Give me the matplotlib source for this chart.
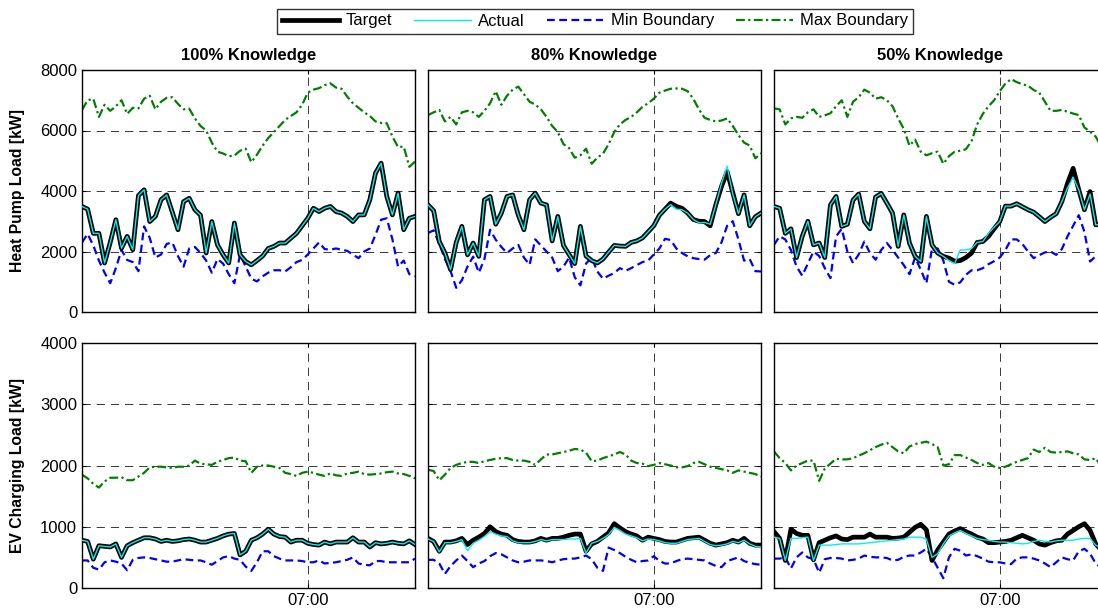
import numpy as np
import pandas as pd
import matplotlib
matplotlib.use('Agg')
import matplotlib.pyplot as plt
import matplotlib.dates as mdates

# 5-minute samples, 07:00 is index 40
times = pd.date_range('2014-01-01 03:40', periods=60, freq='5min')
tick_time = pd.Timestamp('2014-01-01 07:00')

titles = ['100% Knowledge', '80% Knowledge', '50% Knowledge']

# ---- heat pump load [kW] ----
hp_target_100 = [3490, 3400, 2600, 2600, 1620, 2300, 3050, 2110, 2500, 2060,
                 3850, 4040, 2990, 3160, 3710, 3870, 3300, 2720, 3650, 3760,
                 3380, 3200, 1950, 2990, 2220, 1890, 1620, 2940, 1890, 1670,
                 1560, 1700, 1850, 2100, 2170, 2280, 2280, 2440, 2600, 2850,
                 3100, 3430, 3320, 3430, 3490, 3320, 3270, 3160, 2990, 3210,
                 3210, 3710, 4590, 4920, 3820, 3210, 3930, 2720, 3100, 3160]
hp_actual_100 = hp_target_100
hp_min_100 = [2300, 2580, 2200, 1700, 1300, 950, 1450, 2050, 1720, 1650,
              1350, 2830, 2450, 1800, 1900, 2250, 2300, 1850, 1500, 2100,
              2150, 1950, 1700, 1300, 1750, 1600, 1250, 950, 1900, 1500,
              1100, 1010, 1180, 1300, 1380, 1380, 1340, 1480, 1650, 1720,
              1900, 2100, 2300, 2080, 2060, 2100, 2060, 2020, 1900, 1780,
              2000, 2100, 2550, 3050, 3100, 2400, 1500, 1700, 1250, 1180]
hp_max_100 = [6680, 7000, 7050, 6450, 6850, 6650, 6800, 7000, 6550, 6750,
              6730, 7050, 7150, 6700, 6950, 7080, 7100, 6880, 6700, 6720,
              6400, 6150, 6000, 5600, 5300, 5240, 5150, 5170, 5330, 5400,
              4950, 5200, 5500, 5750, 5950, 6150, 6350, 6480, 6600, 6850,
              7250, 7350, 7400, 7500, 7560, 7420, 7380, 7120, 6900, 6750,
              6600, 6480, 6300, 6250, 6240, 5800, 5450, 5470, 4800, 4970]

hp_target_80 = [3540, 3350, 2330, 1950, 1400, 2300, 2830, 1890, 2280, 1840,
                3710, 3820, 2900, 3270, 3820, 3870, 3200, 2720, 3710, 3930,
                3600, 3540, 2350, 3160, 2200, 1900, 1600, 2830, 1850, 1700,
                1620, 1750, 1980, 2200, 2180, 2170, 2300, 2350, 2450, 2650,
                2850, 3200, 3400, 3600, 3490, 3430, 3270, 3060, 3000, 2990,
                2850, 3550, 4150, 4640, 3950, 3250, 3870, 2850, 3150, 3270]
hp_actual_80 = [3540, 3350, 2330, 1950, 1400, 2300, 2830, 1890, 2280, 1840,
                3710, 3820, 2900, 3270, 3820, 3870, 3200, 2720, 3710, 3930,
                3600, 3540, 2350, 3160, 2200, 1900, 1600, 2830, 1850, 1700,
                1620, 1750, 1980, 2200, 2180, 2170, 2300, 2350, 2450, 2650,
                2850, 3200, 3400, 3550, 3400, 3380, 3270, 3060, 2950, 2960,
                2900, 3550, 4250, 4820, 3900, 3250, 3870, 2850, 3150, 3270]
hp_min_80 = [2610, 2700, 2250, 1750, 1350, 800, 1050, 1500, 1830, 1300,
             1750, 2720, 2390, 2150, 1950, 2100, 2220, 1800, 1560, 2400,
             2200, 2000, 1800, 1350, 1500, 1800, 1150, 880, 1600, 1800,
             1340, 1100, 1200, 1290, 1450, 1360, 1450, 1550, 1650, 1700,
             1900, 2100, 2420, 2380, 2100, 1950, 1840, 1780, 1750, 1730,
             1880, 1950, 2300, 2850, 3000, 2400, 1700, 1750, 1350, 1340]
hp_max_80 = [6510, 6600, 6680, 6300, 6450, 6200, 6600, 6650, 6600, 6450,
             6650, 6900, 7300, 6850, 7150, 7350, 7450, 7200, 6950, 6860,
             6700, 6450, 6150, 5950, 5550, 5420, 5100, 5180, 5400, 4900,
             5100, 5230, 5550, 5950, 6200, 6350, 6450, 6600, 6780, 6900,
             7050, 7250, 7320, 7380, 7390, 7380, 7300, 7050, 6700, 6420,
             6350, 6300, 6330, 6400, 6150, 5850, 5600, 5500, 5080, 5250]

hp_target_50 = [3490, 3430, 2600, 2750, 1800, 2500, 3000, 2220, 2280, 1800,
                3540, 3820, 2830, 2900, 3700, 3900, 3000, 2750, 3800, 3920,
                3600, 3270, 2170, 3210, 2280, 1840, 1670, 3160, 2220, 1950,
                1840, 1780, 1680, 1700, 1800, 1950, 2300, 2330, 2500, 2750,
                2990, 3500, 3500, 3580, 3480, 3380, 3300, 3150, 2990, 3130,
                3250, 3650, 4250, 4750, 4040, 3380, 3980, 2880, 2900, 3100]
hp_actual_50 = [3490, 3430, 2600, 2750, 1800, 2500, 3000, 2220, 2280, 1800,
                3540, 3820, 2830, 2900, 3700, 3900, 3000, 2750, 3800, 3920,
                3600, 3270, 2170, 3210, 2280, 1840, 1670, 3160, 2220, 1950,
                1840, 1700, 1600, 2050, 2050, 2100, 2300, 2330, 2600, 2800,
                2990, 3500, 3500, 3580, 3480, 3380, 3300, 3150, 2990, 3130,
                3250, 3650, 4100, 4450, 4040, 3380, 3900, 2880, 2900, 3100]
hp_min_50 = [2220, 2500, 2400, 2050, 1500, 1200, 1600, 2000, 1850, 1450,
             1120, 2500, 2750, 2000, 1620, 1900, 2330, 1950, 1730, 2050,
             2280, 2050, 1800, 1550, 1250, 1800, 1400, 950, 2100, 2100,
             1700, 1000, 900, 980, 1230, 1380, 1380, 1450, 1580, 1680,
             1800, 2050, 2400, 2400, 2250, 2000, 1780, 1880, 1970, 2000,
             1890, 2080, 2500, 2850, 3200, 2650, 1670, 1840, 1850, 1800]
hp_max_50 = [6730, 6700, 6200, 6400, 6450, 6420, 6600, 6700, 6450, 6500,
             6570, 6800, 7000, 6450, 6950, 7100, 7350, 7250, 7050, 7100,
             7000, 6800, 6400, 6050, 5500, 5700, 5300, 5180, 5250, 5300,
             4900, 5150, 5300, 5330, 5380, 5650, 6200, 6550, 6800, 7000,
             7300, 7550, 7700, 7600, 7530, 7480, 7340, 7250, 6950, 6650,
             6650, 6680, 6620, 6560, 6510, 6100, 5960, 5800, 5450, 5300]

# ---- EV charging load [kW] ----
ev_target_100 = [780, 760, 470, 690, 680, 670, 720, 500, 690, 740,
                 780, 820, 820, 800, 760, 780, 760, 770, 790, 800,
                 780, 750, 750, 780, 810, 850, 880, 890, 540, 600,
                 780, 820, 880, 960, 880, 840, 830, 750, 780, 780,
                 730, 710, 700, 750, 720, 750, 750, 750, 820, 750,
                 750, 670, 740, 720, 730, 750, 730, 720, 770, 710]
ev_actual_100 = ev_target_100
ev_min_100 = [450, 450, 330, 300, 420, 450, 430, 400, 290, 460,
              490, 500, 490, 470, 450, 430, 430, 450, 470, 460,
              450, 450, 420, 380, 440, 500, 520, 480, 460, 350,
              280, 420, 600, 600, 520, 480, 450, 450, 450, 440,
              420, 420, 450, 400, 410, 420, 440, 460, 500, 400,
              380, 370, 440, 440, 420, 420, 420, 420, 420, 480]
ev_max_100 = [1850, 1790, 1700, 1640, 1740, 1800, 1800, 1810, 1760, 1760,
              1820, 1880, 1970, 1980, 1980, 1970, 1960, 1980, 1980, 2000,
              2080, 2030, 2020, 2010, 2060, 2090, 2120, 2130, 2080, 2070,
              1880, 1980, 2000, 2000, 1980, 1960, 1880, 1860, 1830, 1880,
              1900, 1880, 1850, 1830, 1870, 1840, 1830, 1870, 1880, 1900,
              1860, 1850, 1860, 1870, 1890, 1900, 1870, 1860, 1830, 1790]

ev_target_80 = [810, 760, 600, 750, 750, 770, 810, 710, 780, 830,
                890, 1000, 920, 880, 860, 790, 760, 750, 750, 770,
                810, 780, 810, 810, 830, 860, 880, 880, 600, 720,
                760, 830, 900, 1050, 980, 920, 880, 850, 780, 830,
                810, 790, 760, 750, 750, 780, 810, 820, 830, 780,
                730, 700, 720, 740, 780, 750, 810, 730, 700, 700]
ev_actual_80 = [800, 760, 590, 740, 740, 760, 790, 610, 730, 780,
                840, 920, 880, 850, 840, 770, 740, 740, 740, 760,
                790, 770, 790, 790, 790, 800, 800, 810, 570, 730,
                760, 810, 870, 990, 940, 880, 850, 820, 770, 800,
                790, 770, 740, 730, 730, 760, 790, 800, 810, 760,
                710, 690, 700, 720, 760, 740, 780, 720, 680, 670]
ev_min_80 = [460, 460, 400, 230, 360, 450, 530, 440, 340, 400,
             440, 520, 570, 550, 500, 450, 420, 430, 450, 450,
             450, 440, 420, 450, 470, 480, 480, 500, 530, 470,
             330, 280, 660, 620, 570, 510, 460, 420, 440, 450,
             520, 440, 400, 400, 440, 470, 480, 470, 460, 450,
             400, 360, 340, 440, 470, 500, 440, 410, 390, 380]
ev_max_80 = [1930, 1910, 1760, 1850, 1960, 2010, 2040, 2060, 2060, 2040,
             2070, 2090, 2110, 2120, 2120, 2090, 2080, 2080, 2060, 2010,
             2100, 2180, 2180, 2200, 2220, 2240, 2270, 2260, 2210, 2070,
             2080, 2120, 2150, 2180, 2220, 2180, 2080, 2040, 2030, 1990,
             2010, 2040, 2020, 2000, 1970, 1970, 1990, 2040, 2060, 2020,
             1980, 1960, 1940, 1920, 1880, 1920, 1900, 1880, 1860, 1820]

ev_target_50 = [920, 810, 450, 960, 890, 860, 860, 460, 740, 780,
                820, 850, 800, 790, 830, 830, 830, 880, 830, 830,
                830, 810, 815, 830, 910, 990, 1040, 950, 450, 620,
                750, 880, 930, 970, 920, 880, 830, 800, 740, 740,
                750, 760, 780, 820, 860, 820, 780, 720, 700, 740,
                770, 780, 880, 940, 1000, 1050, 940, 720, 620, 600]
ev_actual_50 = [830, 810, 450, 810, 810, 820, 830, 450, 700, 700,
                700, 710, 720, 720, 720, 720, 730, 740, 750, 760,
                770, 780, 790, 800, 830, 830, 830, 800, 500, 560,
                720, 850, 900, 940, 890, 850, 810, 790, 780, 760,
                750, 750, 740, 730, 720, 730, 760, 780, 760, 750,
                770, 780, 780, 780, 800, 810, 810, 700, 650, 640]
ev_min_50 = [480, 480, 500, 320, 500, 580, 500, 470, 250, 470,
             490, 490, 480, 450, 460, 480, 530, 510, 500, 500,
             490, 450, 460, 510, 530, 530, 580, 640, 500, 330,
             160, 500, 640, 610, 530, 550, 520, 480, 430, 420,
             420, 400, 390, 480, 500, 500, 480, 450, 400, 340,
             420, 500, 470, 450, 600, 640, 560, 400, 330, 320]
ev_max_50 = [2230, 2120, 2040, 1920, 2000, 2040, 2080, 2080, 1750, 1950,
             2030, 2110, 2100, 2100, 2120, 2160, 2200, 2250, 2300, 2340,
             2370, 2300, 2230, 2200, 2310, 2350, 2370, 2390, 2350, 2300,
             2000, 2020, 2170, 2170, 2130, 2090, 2040, 2010, 2040, 1980,
             1960, 1980, 2020, 2060, 2090, 2120, 2260, 2220, 2290, 2220,
             2210, 2220, 2230, 2200, 2180, 2100, 2090, 2120, 1980, 1950]

hp_rows = [(hp_target_100, hp_actual_100, hp_min_100, hp_max_100),
           (hp_target_80, hp_actual_80, hp_min_80, hp_max_80),
           (hp_target_50, hp_actual_50, hp_min_50, hp_max_50)]
ev_rows = [(ev_target_100, ev_actual_100, ev_min_100, ev_max_100),
           (ev_target_80, ev_actual_80, ev_min_80, ev_max_80),
           (ev_target_50, ev_actual_50, ev_min_50, ev_max_50)]

plt.rcParams['font.family'] = ['Liberation Sans', 'DejaVu Sans']
plt.rcParams['font.size'] = 12

W, H = 1098.0, 611.0
fig = plt.figure(figsize=(W / 100, H / 100), dpi=100, facecolor='w')

lefts = [82, 428, 774]
panel_w = 333
rows = [(70, 312), (343, 588)]


def draw(ax, series, ymax, ystep):
    target, actual, lo, hi = series
    ax.plot(times, target, color='k', lw=3.4, solid_joinstyle='round',
            label='Target', zorder=3)
    ax.plot(times, actual, color='#00f0f0', lw=1.0, label='Actual', zorder=4)
    ax.plot(times, lo, color='#0000ff', lw=1.6, dashes=(3.5, 2.0),
            label='Min Boundary', zorder=2)
    ax.plot(times, hi, color='#008000', lw=1.6, dashes=(4.0, 1.5, 1.0, 1.5),
            label='Max Boundary', zorder=2)
    ax.set_xlim(times[0], times[-1])
    ax.set_ylim(0, ymax)
    ax.set_yticks(np.arange(0, ymax + 1, ystep))
    ax.set_xticks([tick_time])
    ax.xaxis.set_major_formatter(mdates.DateFormatter('%H:%M'))
    ax.grid(True, color='0.1', linestyle=(0, (10, 7)), lw=0.6)
    ax.tick_params(direction='in', top=True, right=True, length=3,
                   labelsize=12)
    for s in ax.spines.values():
        s.set_linewidth(1.0)


axes = []
for r, (top, bot) in enumerate(rows):
    for c in range(3):
        ax = fig.add_axes([lefts[c] / W, 1 - bot / H, panel_w / W, (bot - top) / H])
        if r == 0:
            draw(ax, hp_rows[c], 8000, 2000)
            ax.set_xticklabels([])
            ax.set_title(titles[c], fontweight='bold', fontsize=12, pad=7)
        else:
            draw(ax, ev_rows[c], 4000, 1000)
        if c == 0:
            ax.set_ylabel('Heat Pump Load [kW]' if r == 0 else 'EV Charging Load [kW]',
                          fontweight='bold', fontsize=11.3)
            ax.yaxis.set_label_coords(-0.171, 0.5)
        else:
            ax.set_yticklabels([])
        axes.append(ax)

handles, labels = axes[0].get_legend_handles_labels()
leg = fig.legend(handles, labels, loc='center', ncol=4,
                 bbox_to_anchor=(595 / W, 1 - 21 / H), frameon=True,
                 fancybox=False, edgecolor='k', handlelength=3.4,
                 handletextpad=0.45, columnspacing=1.3, borderpad=0.3,
                 fontsize=12)
leg.get_frame().set_linewidth(1.0)

fig.savefig('out.png', dpi=100)
